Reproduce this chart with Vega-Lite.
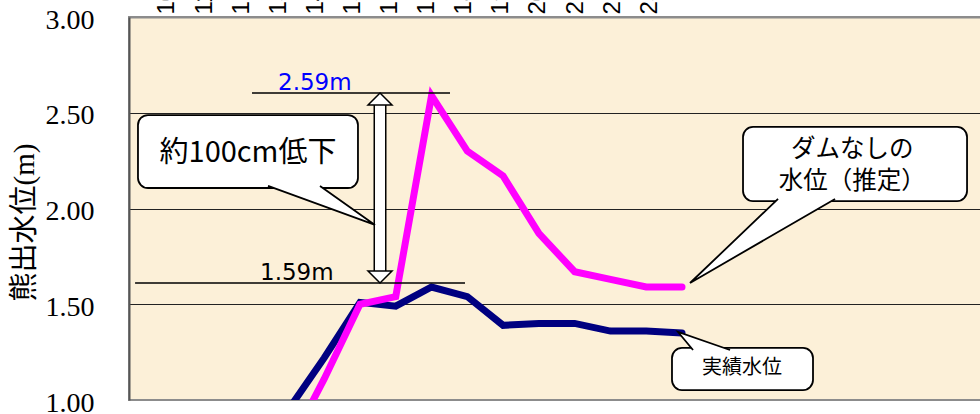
{
  "$schema": "https://vega.github.io/schema/vega-lite/v6.json",
  "width": 853,
  "height": 383,
  "autosize": {"type": "none"},
  "padding": {"left": 129, "top": 17, "right": 0, "bottom": 14},
  "background": "white",
  "config": {
    "view": {"fill": "#FCF0D8", "stroke": "#8c8c8c", "strokeWidth": 2}
  },
  "datasets": {
    "hours": [{"h": 10}, {"h": 11}, {"h": 12}, {"h": 13}, {"h": 14}, {"h": 15}, {"h": 16}, {"h": 17}, {"h": 18}, {"h": 19}, {"h": 20}, {"h": 21}, {"h": 22}, {"h": 23}],
    "actual": [
      {"x": 0, "y": 0.95}, {"x": 1, "y": 1.22}, {"x": 2, "y": 1.51}, {"x": 3, "y": 1.49},
      {"x": 4, "y": 1.59}, {"x": 5, "y": 1.54}, {"x": 6, "y": 1.39}, {"x": 7, "y": 1.4},
      {"x": 8, "y": 1.4}, {"x": 9, "y": 1.36}, {"x": 10, "y": 1.36}, {"x": 11, "y": 1.35}
    ],
    "nodam": [
      {"x": 0, "y": 0.75}, {"x": 1, "y": 1.11}, {"x": 2, "y": 1.5}, {"x": 3, "y": 1.54},
      {"x": 4, "y": 2.59}, {"x": 5, "y": 2.3}, {"x": 6, "y": 2.17}, {"x": 7, "y": 1.87},
      {"x": 8, "y": 1.67}, {"x": 9, "y": 1.63}, {"x": 10, "y": 1.59}, {"x": 11, "y": 1.59}
    ],
    "levels": [
      {"x": -1.017, "x2": 4.517, "y": 2.603},
      {"x": -4.285, "x2": 4.935, "y": 1.611}
    ],
    "peakLabels": [
      {"x": -0.291, "y": 2.619, "label": "2.59m"},
      {"x": -0.794, "y": 1.627, "label": "1.59m"}
    ],
    "arrowShaft": [{"x": 2.56, "y": 2.546, "y2": 1.668}],
    "arrowHeads": [
      {"x": 2.56, "y": 2.572, "end": "top"},
      {"x": 2.56, "y": 1.642, "end": "bottom"}
    ],
    "boxes": [
      {"x": -4.204, "x2": 1.944, "y": 2.488, "y2": 2.107, "note": "drop"},
      {"x": 12.705, "x2": 18.966, "y": 2.426, "y2": 2.039, "note": "nodam"},
      {"x": 10.72, "x2": 14.661, "y": 1.272, "y2": 1.052, "note": "actual"}
    ],
    "tails": [
      {"x": -0.57, "y": 2.118, "k": 0, "note": "drop"},
      {"x": 2.42, "y": 1.914, "k": 1, "note": "drop"},
      {"x": 0.883, "y": 2.118, "k": 2, "note": "drop"},
      {"x": 13.684, "y": 2.05, "k": 0, "note": "nodam"},
      {"x": 11.224, "y": 1.611, "k": 1, "note": "nodam"},
      {"x": 15.277, "y": 2.05, "k": 2, "note": "nodam"},
      {"x": 11.308, "y": 1.261, "k": 0, "note": "actual"},
      {"x": 10.889, "y": 1.355, "k": 1, "note": "actual"},
      {"x": 12.342, "y": 1.261, "k": 2, "note": "actual"}
    ],
    "notes": [
      {"x": -1.129, "y": 2.29, "note": "drop", "text": "約100cm低下"},
      {"x": 15.757, "y": 2.305, "note": "nodam", "text": "ダムなしの"},
      {"x": 15.757, "y": 2.138, "note": "nodam", "text": "水位（推定）"},
      {"x": 12.678, "y": 1.167, "note": "actual", "text": "実績水位"}
    ]
  },
  "resolve": {"scale": {"x": "independent"}, "axis": {"x": "independent"}},
  "layer": [
    {
      "data": {"name": "hours"},
      "mark": {"type": "point", "opacity": 0},
      "encoding": {
        "x": {
          "field": "h", "type": "quantitative",
          "scale": {"domain": [8.976, 31.97], "nice": false, "zero": false},
          "axis": {
            "orient": "top", "values": [10, 11, 12, 13, 14, 15, 16, 17, 18, 19, 20, 21, 22, 23],
            "format": "d", "title": null, "grid": false, "ticks": false,
            "domain": true, "domainColor": "#8c8c8c", "domainWidth": 2,
            "labelAngle": 270, "labelAlign": "left", "labelBaseline": "middle",
            "labelPadding": 3, "labelFont": "Liberation Sans", "labelFontSize": 24,
            "labelColor": "black", "labelFlush": false, "labelOverlap": false
          }
        }
      }
    },
    {
      "encoding": {
        "x": {"field": "x", "type": "quantitative", "scale": {"domain": [-4.455, 19.384], "nice": false, "zero": false}, "axis": null},
        "y": {
          "field": "y", "type": "quantitative",
          "scale": {"domain": [1, 3], "nice": false, "zero": false},
          "axis": {
            "values": [1, 1.5, 2, 2.5, 3], "format": ".2f",
            "grid": true,
            "gridColor": {"condition": {"test": "datum.value == 1 || datum.value == 3", "value": "transparent"}, "value": "#222222"},
            "gridWidth": 1, "ticks": false,
            "domain": true, "domainColor": "#555555", "domainWidth": 2,
            "labelFont": "Liberation Serif, Times New Roman, serif", "labelFontSize": 28, "labelColor": "black",
            "labelPadding": 35, "labelOffset": 3, "labelFlush": false, "labelOverlap": false,
            "title": "熊出水位(m)", "titleFont": "Liberation Serif, Noto Sans CJK JP, serif",
            "titleFontSize": 29, "titleFontWeight": "normal", "titleColor": "black",
            "titleAngle": 270, "titleX": -105, "titleY": 205,
            "titleAlign": "center", "titleBaseline": "middle"
          }
        }
      },
      "layer": [
        {
          "data": {"name": "actual"},
          "mark": {"type": "line", "color": "#000080", "strokeWidth": 7, "strokeCap": "round", "clip": true},
          "encoding": {}
        },
        {
          "data": {"name": "nodam"},
          "mark": {"type": "line", "color": "#FF00FF", "strokeWidth": 7, "strokeCap": "round", "clip": true},
          "encoding": {}
        },
        {
          "data": {"name": "levels"},
          "mark": {"type": "rule", "color": "black", "strokeWidth": 1.5},
          "encoding": {"x2": {"field": "x2"}}
        },
        {
          "data": {"name": "peakLabels"},
          "mark": {"type": "text", "align": "left", "baseline": "alphabetic", "font": "DejaVu Sans", "fontSize": 23},
          "encoding": {
            "text": {"field": "label"},
            "color": {"field": "label", "type": "nominal", "scale": {"domain": ["2.59m", "1.59m"], "range": ["#0000FF", "#000000"]}, "legend": null}
          }
        },
        {
          "data": {"name": "arrowShaft"},
          "mark": {"type": "rule", "color": "black", "strokeWidth": 13},
          "encoding": {"y2": {"field": "y2"}}
        },
        {
          "data": {"name": "arrowShaft"},
          "mark": {"type": "rule", "color": "white", "strokeWidth": 10},
          "encoding": {"y2": {"field": "y2"}}
        },
        {
          "data": {"name": "arrowHeads"},
          "mark": {"type": "point", "filled": true, "fill": "white", "stroke": "black", "strokeWidth": 1.5, "size": 576, "opacity": 1},
          "encoding": {
            "shape": {"field": "end", "type": "nominal", "scale": {"domain": ["top", "bottom"], "range": ["M-1,0.5L0,-0.5L1,0.5Z", "M-1,-0.5L0,0.5L1,-0.5Z"]}, "legend": null}
          }
        },
        {
          "data": {"name": "boxes"},
          "mark": {"type": "rect", "fill": "white", "stroke": "black", "strokeWidth": 1.8, "cornerRadius": 10},
          "encoding": {"x2": {"field": "x2"}, "y2": {"field": "y2"}}
        },
        {
          "data": {"name": "tails"},
          "mark": {"type": "line", "fill": "white", "stroke": "black", "strokeWidth": 1.8, "strokeJoin": "miter"},
          "encoding": {"detail": {"field": "note"}, "order": {"field": "k", "type": "quantitative"}}
        },
        {
          "data": {"name": "notes"},
          "mark": {"type": "text", "align": "center", "baseline": "middle", "font": "Noto Sans CJK JP", "color": "black"},
          "encoding": {
            "text": {"field": "text"},
            "size": {"field": "note", "type": "nominal", "scale": {"domain": ["drop", "nodam", "actual"], "range": [29, 20, 22]}, "legend": null}
          }
        }
      ]
    }
  ]
}
